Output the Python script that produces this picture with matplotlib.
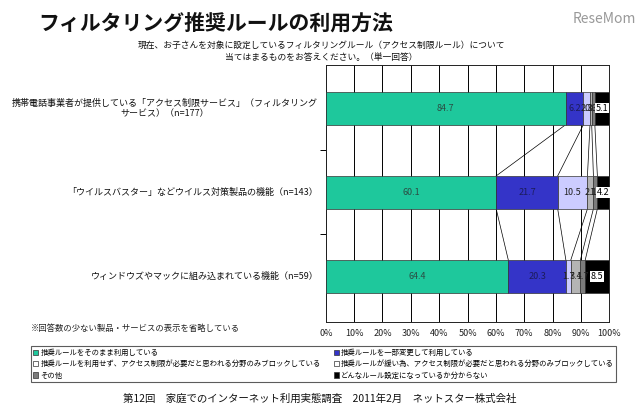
import matplotlib
matplotlib.use("Agg")
import matplotlib.pyplot as plt
from matplotlib.patches import Patch
import numpy as np

plt.rcParams['font.family'] = ['Noto Sans CJK JP', 'DejaVu Sans']

categories = ["携帯電話事業者が提供している「アクセス制限サービス」（フィルタリング\nサービス）（n=177）",
              "「ウイルスバスター」などウイルス対策製品の機能（n=143）",
              "ウィンドウズやマックに組み込まれている機能（n=59）"]
series_names = ["推奨ルールをそのまま利用している",
                "推奨ルールを一部変更して利用している",
                "推奨ルールを利用せず、アクセス制限が必要だと思われる分野のみブロックしている",
                "推奨ルールが緩い為、アクセス制限が必要だと思われる分野のみブロックしている",
                "その他",
                "どんなルール設定になっているか分からない"]
# one row per category, one column per series
values = np.array([[84.7, 6.2, 2.3, 0.6, 1.1, 5.1],
                   [60.1, 21.7, 10.5, 2.1, 1.4, 4.2],
                   [64.4, 20.3, 1.7, 3.4, 1.7, 8.5]])
colors = ['#1ec89c', '#3434c8', '#ccccff', '#b4b4b4', '#7c7c7c', '#000000']
text_colors = ['#2b4d44', '#1c1c5a', '#222222', '#222222', '#222222', '#000000']
xticks = [0, 10, 20, 30, 40, 50, 60, 70, 80, 90, 100]

fig = plt.figure(figsize=(6.4, 4.2), dpi=100)
ax = fig.add_axes([0.509, 0.233, 0.443, 0.612])

bar_h = 0.39
y = np.arange(len(categories))
left = np.zeros(len(categories))
for j in range(values.shape[1]):
    ax.barh(y, values[:, j], left=left, height=bar_h, color=colors[j],
            edgecolor='#333333', linewidth=0.5, zorder=3)
    for i in range(len(categories)):
        cx = left[i] + values[i, j] / 2
        if j == 5:
            ax.text(cx, y[i], "%.1f" % values[i, j], ha='center', va='center', fontsize=6.5,
                    color='black', zorder=5,
                    bbox=dict(facecolor='white', edgecolor='none', pad=0.5))
        else:
            ax.text(cx, y[i], "%.1f" % values[i, j], ha='center', va='center', fontsize=6.5,
                    color=text_colors[j], zorder=5)
    left = left + values[:, j]

# series lines between bars
cum = np.cumsum(values, axis=1)
for i in range(len(categories) - 1):
    for k in range(values.shape[1] - 1):
        ax.plot([cum[i, k], cum[i + 1, k]], [y[i] + bar_h / 2, y[i + 1] - bar_h / 2],
                color='black', linewidth=0.5, zorder=2)

ax.set_xlim(0, 100)
ax.set_ylim(2.54, -0.51)
ax.set_xticks(xticks)
ax.set_xticklabels(["%d%%" % t for t in xticks], fontsize=6.5, color='#222222')
ax.tick_params(axis='x', length=0, pad=5)
ax.xaxis.grid(True, color='black', linewidth=0.7, zorder=0)
ax.set_yticks([0.5, 1.5])
ax.set_yticklabels([])
ax.tick_params(axis='y', length=4, width=0.7, direction='out')
for s in ax.spines.values():
    s.set_linewidth(0.7)
    s.set_color('#222222')

for i, c in enumerate(categories):
    fig.text(0.497, 1 - (108 + i * 84.3) / 420, c, ha='right', va='center',
             multialignment='center', fontsize=6.5, color='#111111')

fig.text(0.337, 0.945, "フィルタリング推奨ルールの利用方法", ha='center', va='center',
         fontsize=15, fontweight='bold', color='#111111')
fig.text(0.945, 0.955, "ReseMom", ha='center', va='center', fontsize=10, color='#999999')
fig.text(0.502, 0.877, "現在、お子さんを対象に設定しているフィルタリングルール（アクセス制限ルール）について\n当てはまるものをお答えください。（単一回答）",
         ha='center', va='center', multialignment='center', fontsize=6.3, color='#111111',
         linespacing=1.5)
fig.text(0.048, 0.218, "※回答数の少ない製品・サービスの表示を省略している", ha='left', va='center',
         fontsize=6, color='#222222')
fig.text(0.5, 0.05, "第12回　家庭でのインターネット利用実態調査　2011年2月　ネットスター株式会社",
         ha='center', va='center', fontsize=7.5, color='#111111')

handles = [Patch(facecolor=colors[j] if j in (0, 1, 4, 5) else 'white', edgecolor='#333333',
                 linewidth=0.5, label=series_names[j]) for j in range(6)]
order = [0, 2, 4, 1, 3, 5]
leg = fig.legend([handles[j] for j in order], [series_names[j] for j in order],
                 loc='lower left', bbox_to_anchor=(0.048, 0.09, 0.915, 0.093), mode='expand',
                 ncol=2, fontsize=5.3, frameon=True, fancybox=False, handlelength=0.7,
                 handleheight=0.7, handletextpad=0.3, borderpad=0.35, labelspacing=0.45,
                 columnspacing=0.5, borderaxespad=0)
leg.get_frame().set_edgecolor('#333333')
leg.get_frame().set_linewidth(0.8)

fig.savefig("out.png", dpi=100)
